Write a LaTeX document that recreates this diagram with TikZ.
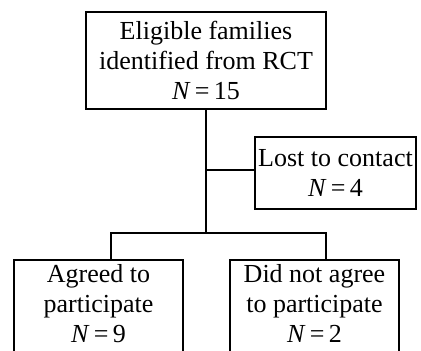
\documentclass[tikz,border=0pt]{standalone}
\usepackage{fontspec}
\setmainfont{Liberation Serif}

\begin{document}
\begin{tikzpicture}[x=1pt,y=-1pt]
        \tikzstyle{every node}=[font=\fontsize{26}{30}\selectfont]
        \tikzstyle{boite}=[draw,line width=2pt,align=center,inner xsep=2pt]
        \tikzstyle{trait}=[line width=2pt]
        \useasboundingbox (0,0) rectangle (421,351);
        \node[boite,minimum width=240pt,minimum height=97pt] (elig) at (206,60.5)
        {Eligible families\\identified from RCT\\\textit{N}\,=\,15};
        \node[boite,minimum width=161pt,minimum height=72pt] (perdu) at (335.5,172.5)
        {Lost to contact\\\textit{N}\,=\,4};
        \node[boite,anchor=north,minimum width=169pt,inner ysep=4pt,text depth=12pt] (oui) at (98.5,259)
        {Agreed to\\participate\\\textit{N}\,=\,9};
        \node[boite,anchor=north,minimum width=169pt,inner ysep=4pt,text depth=12pt] (non) at (314.5,259)
        {Did not agree\\to participate\\\textit{N}\,=\,2};
        \coordinate (x) at (elig.south |- 0,170);
        \coordinate (y) at (elig.south |- 0,233);
        \coordinate (g) at (111,233);
        \coordinate (d) at (326,233);
        \draw[trait] (elig) -- (y);
        \draw[trait] (x) -- (x -| perdu.west);
        \draw[trait] (g |- oui.north) -- (g) -- (d) -- (d |- non.north);
      \end{tikzpicture}
\end{document}
